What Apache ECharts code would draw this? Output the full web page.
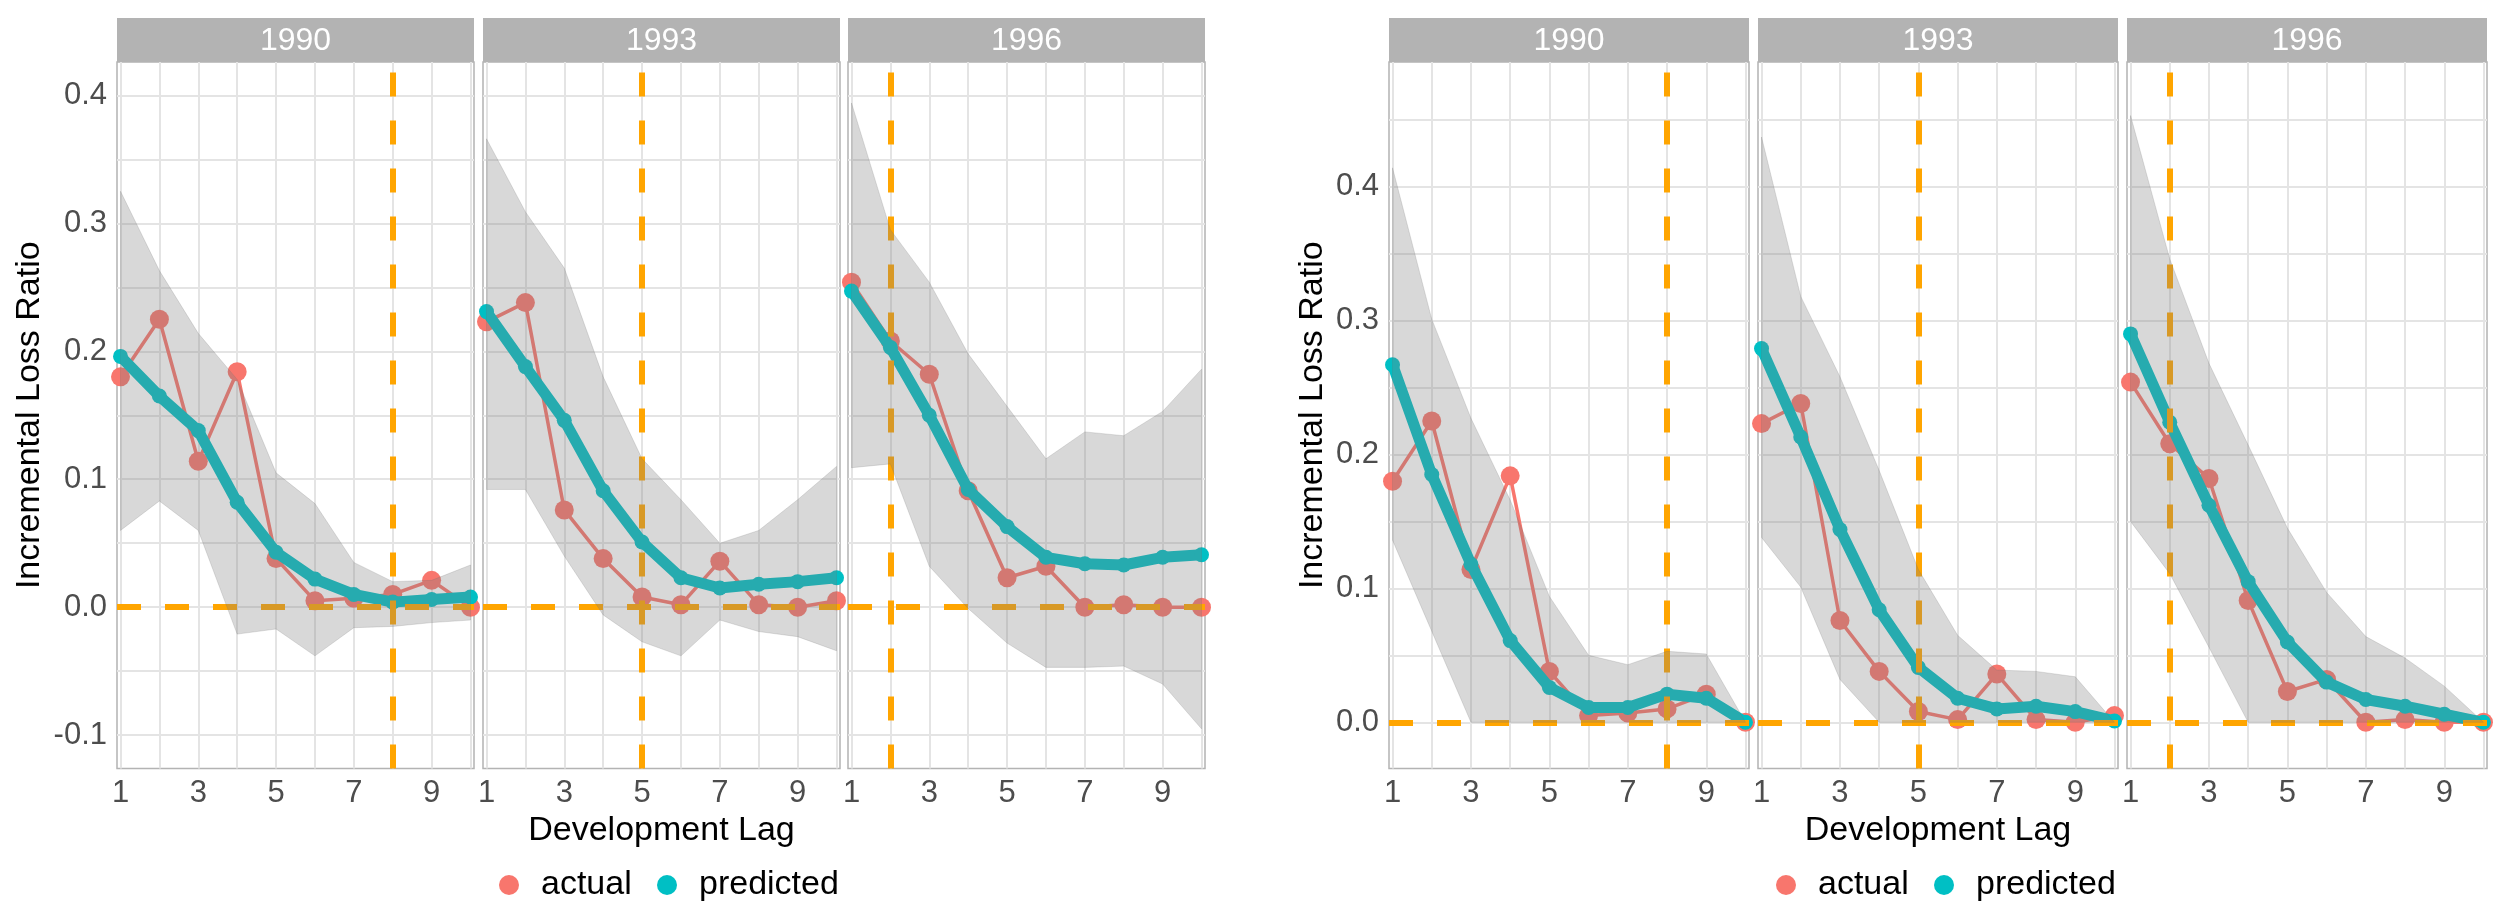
<!DOCTYPE html>
<html><head><meta charset="utf-8">
<script src="https://cdn.jsdelivr.net/npm/echarts@6/dist/echarts.min.js"></script>
<style>html,body{margin:0;padding:0;background:#fff}#c{width:2500px;height:912px}</style>
</head><body><div id="c"></div>
<script>
// ---------- data ----------
const years = ['1990', '1993', '1996'];
const lags = [1, 2, 3, 4, 5, 6, 7, 8, 9, 10];
const vlineLag = [8, 5, 2];
const xTickLabels = [1, 3, 5, 7, 9];
const yTickLabelsLeft = [-0.1, 0, 0.1, 0.2, 0.3, 0.4];
const yGridLeft = [-0.1, -0.05, 0, 0.05, 0.1, 0.15, 0.2, 0.25, 0.3, 0.35, 0.4];
const yTickLabelsRight = [0, 0.1, 0.2, 0.3, 0.4];
const yGridRight = [0, 0.05, 0.1, 0.15, 0.2, 0.25, 0.3, 0.35, 0.4, 0.45];
const legendNames = ['actual', 'predicted'];

// actual incremental loss ratios (same in both charts)
const actual1990 = [0.180, 0.225, 0.114, 0.184, 0.038, 0.005, 0.007, 0.010, 0.021, 0.000];
const actual1993 = [0.223, 0.238, 0.076, 0.038, 0.008, 0.002, 0.036, 0.002, 0.000, 0.005];
const actual1996 = [0.254, 0.208, 0.182, 0.091, 0.023, 0.032, 0.000, 0.002, 0.000, 0.000];

// left chart: predicted and interval
const leftPred1990 = [0.196, 0.165, 0.138, 0.082, 0.043, 0.022, 0.010, 0.004, 0.006, 0.008];
const leftUpper1990 = [0.325, 0.263, 0.214, 0.178, 0.105, 0.081, 0.035, 0.020, 0.021, 0.033];
const leftLower1990 = [0.060, 0.083, 0.060, -0.021, -0.017, -0.038, -0.016, -0.015, -0.012, -0.010];

const leftPred1993 = [0.231, 0.188, 0.146, 0.091, 0.051, 0.023, 0.015, 0.018, 0.020, 0.023];
const leftUpper1993 = [0.366, 0.309, 0.265, 0.180, 0.116, 0.084, 0.050, 0.060, 0.084, 0.110];
const leftLower1993 = [0.092, 0.092, 0.040, -0.006, -0.027, -0.038, -0.010, -0.019, -0.023, -0.034];

const leftPred1996 = [0.247, 0.203, 0.150, 0.092, 0.063, 0.039, 0.034, 0.033, 0.039, 0.041];
const leftUpper1996 = [0.394, 0.295, 0.254, 0.198, 0.157, 0.116, 0.137, 0.134, 0.153, 0.186];
const leftLower1996 = [0.109, 0.112, 0.032, -0.001, -0.028, -0.047, -0.047, -0.046, -0.060, -0.095];

// right chart: predicted and interval
const rightPred1990 = [0.267, 0.185, 0.118, 0.061, 0.026, 0.011, 0.011, 0.021, 0.018, 0.000];
const rightUpper1990 = [0.414, 0.301, 0.227, 0.166, 0.094, 0.050, 0.043, 0.053, 0.051, 0.000];
const rightLower1990 = [0.136, 0.068, 0, 0, 0, 0, 0, 0, 0, 0];

const rightPred1993 = [0.279, 0.213, 0.144, 0.084, 0.041, 0.018, 0.010, 0.012, 0.008, 0.001];
const rightUpper1993 = [0.437, 0.318, 0.258, 0.188, 0.114, 0.065, 0.039, 0.038, 0.034, 0.000];
const rightLower1993 = [0.138, 0.101, 0.032, 0, 0, 0, 0, 0, 0, 0];

const rightPred1996 = [0.290, 0.224, 0.162, 0.105, 0.060, 0.030, 0.017, 0.012, 0.006, 0.000];
const rightUpper1996 = [0.453, 0.346, 0.268, 0.207, 0.145, 0.097, 0.064, 0.048, 0.027, 0.000];
const rightLower1996 = [0.150, 0.111, 0.056, 0, 0, 0, 0, 0, 0, 0];

// ---------- layout & style ----------
const FONT = "'Liberation Sans', Arial, Helvetica, sans-serif";
const RED = '#F8766D', TEAL = '#00BFC4', ORANGE = '#FFA500';
const GRID_TOP = 62, GRID_H = 706.5, STRIP_TOP = 18, STRIP_H = 44;
const gridBoxes = [
  [117, 357], [483, 357], [848, 357],
  [1389, 360], [1758, 360], [2127, 360]
];
const panels = [
  {actual: actual1990, pred: leftPred1990, up: leftUpper1990, lo: leftLower1990, chart: 0, year: 0},
  {actual: actual1993, pred: leftPred1993, up: leftUpper1993, lo: leftLower1993, chart: 0, year: 1},
  {actual: actual1996, pred: leftPred1996, up: leftUpper1996, lo: leftLower1996, chart: 0, year: 2},
  {actual: actual1990, pred: rightPred1990, up: rightUpper1990, lo: rightLower1990, chart: 1, year: 0},
  {actual: actual1993, pred: rightPred1993, up: rightUpper1993, lo: rightLower1993, chart: 1, year: 1},
  {actual: actual1996, pred: rightPred1996, up: rightUpper1996, lo: rightLower1996, chart: 1, year: 2}
];
const yRange = [[-0.126, 0.426], [-0.0345, 0.493]];
const xRange = [0.91, 10.09];

const grids = [], xAxes = [], yAxes = [], series = [], graphics = [];

panels.forEach((p, i) => {
  const [gx, gw] = gridBoxes[i];
  grids.push({left: gx, top: GRID_TOP, width: gw, height: GRID_H, show: true,
    borderColor: '#B3B3B3', borderWidth: 1.5, backgroundColor: 'transparent', containLabel: false});
  const isMid = p.year === 1, isFirst = p.year === 0;
  xAxes.push({
    type: 'value', gridIndex: i, min: xRange[0], max: xRange[1],
    axisLine: {show: false},
    axisTick: {show: false, customValues: lags},
    axisLabel: {customValues: xTickLabels, color: '#4D4D4D', fontSize: 31, fontFamily: FONT, margin: 9,
      formatter: v => String(Math.round(v))},
    splitLine: {show: true, lineStyle: {color: '#E4E4E4', width: 2}},
    name: isMid ? 'Development Lag' : '', nameLocation: 'middle', nameGap: 43,
    nameTextStyle: {color: '#000', fontSize: 34, fontFamily: FONT}
  });
  const yr = yRange[p.chart];
  yAxes.push({
    type: 'value', gridIndex: i, min: yr[0], max: yr[1],
    axisLine: {show: false},
    axisTick: {show: false, customValues: p.chart === 0 ? yGridLeft : yGridRight},
    axisLabel: {show: isFirst, customValues: p.chart === 0 ? yTickLabelsLeft : yTickLabelsRight,
      color: '#4D4D4D', fontSize: 31, fontFamily: FONT, margin: 10,
      formatter: v => (Math.abs(v) < 1e-9 ? 0 : v).toFixed(1)},
    splitLine: {show: true, lineStyle: {color: '#E4E4E4', width: 2}},
    name: isFirst ? 'Incremental Loss Ratio' : '', nameLocation: 'middle',
    nameGap: p.chart === 0 ? 70 : 59, nameRotate: 90,
    nameTextStyle: {color: '#000', fontSize: 34, fontFamily: FONT}
  });

  // reference lines (under everything)
  series.push({
    type: 'line', xAxisIndex: i, yAxisIndex: i, data: [], z: 1, silent: true,
    markLine: {symbol: ['none', 'none'], silent: true, animation: false,
      label: {show: false},
      lineStyle: {color: ORANGE, width: 6, type: [24, 24], opacity: 1},
      emphasis: {disabled: true},
      data: [{yAxis: 0}, {xAxis: vlineLag[p.year]}]}
  });
  series.push({
    type: 'line', name: 'actual', xAxisIndex: i, yAxisIndex: i, z: 2,
    data: lags.map((x, k) => [x, p.actual[k]]),
    symbol: 'circle', symbolSize: 19, showAllSymbol: true,
    lineStyle: {color: RED, width: 3.5}, itemStyle: {color: RED},
    emphasis: {disabled: true}, silent: true
  });
  series.push({
    type: 'line', name: 'predicted', xAxisIndex: i, yAxisIndex: i, z: 3,
    data: lags.map((x, k) => [x, p.pred[k]]),
    symbol: 'circle', symbolSize: 15, showAllSymbol: true,
    lineStyle: {color: TEAL, width: 11, cap: 'round', join: 'round'}, itemStyle: {color: TEAL},
    emphasis: {disabled: true}, silent: true
  });
  const up = p.up, lo = p.lo;
  series.push({
    type: 'custom', xAxisIndex: i, yAxisIndex: i, z: 5, silent: true,
    data: lags.map((x, k) => [x, lo[k], up[k]]),
    encode: {x: 0, y: [1, 2]},
    renderItem: (params, api) => {
      if (params.dataIndex !== 0) return null;
      const pts = [];
      for (let k = 0; k < lags.length; k++) pts.push(api.coord([lags[k], up[k]]));
      for (let k = lags.length - 1; k >= 0; k--) pts.push(api.coord([lags[k], lo[k]]));
      return {type: 'polygon', shape: {points: pts},
        style: {fill: 'rgba(127,127,127,0.3)', stroke: 'rgba(110,110,110,0.2)', lineWidth: 1}};
    }
  });

  // facet strips
  graphics.push({type: 'rect', shape: {x: gx, y: STRIP_TOP, width: gw, height: STRIP_H},
    style: {fill: '#B3B3B3'}, silent: true});
  graphics.push({type: 'text', x: gx + gw / 2, y: STRIP_TOP + STRIP_H / 2 + 1,
    style: {text: years[p.year], fill: '#FFFFFF', fontSize: 32, fontFamily: FONT,
      align: 'center', verticalAlign: 'middle', textAlign: 'center', textVerticalAlign: 'middle'},
    silent: true});
});

// one single-item legend per key so spacing matches exactly
const legendColors = [RED, TEAL];
const legendLeft = [[499, 657], [1776, 1934]];
const legends = [];
legendLeft.forEach(row => {
  row.forEach((lx, k) => {
    legends.push({
      orient: 'horizontal', left: lx, top: 868, padding: 0, itemWidth: 20, itemHeight: 20,
      icon: 'circle', selectedMode: false,
      textStyle: {color: '#000', fontSize: 34, fontFamily: FONT, lineHeight: 34, padding: [0, 0, 0, 17]},
      data: [{name: legendNames[k], itemStyle: {color: legendColors[k]}}]
    });
  });
});

const chart = echarts.init(document.getElementById('c'), null, {renderer: 'canvas'});
chart.setOption({
  backgroundColor: '#FFFFFF',
  animation: false,
  textStyle: {fontFamily: FONT},
  grid: grids, xAxis: xAxes, yAxis: yAxes, series: series,
  legend: legends,
  graphic: graphics
});
</script></body></html>
